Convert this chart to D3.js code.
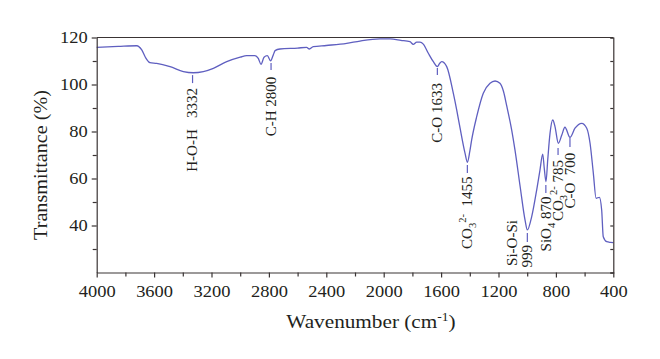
<!DOCTYPE html>
<html>
<head>
<meta charset="utf-8">
<script src="https://cdn.jsdelivr.net/npm/d3@7"></script>
<style>
html,body{margin:0;padding:0;background:#fff;}
svg{display:block;}
text{font-family:"Liberation Serif","DejaVu Serif",serif;fill:#231f20;}
</style>
</head>
<body>
<svg id="chart" width="660" height="359"></svg>
<script>
// Wavenumber (cm-1) and transmittance (%)
const wavenumber = [4000,3850,3721,3686,3660,3629,3582,3489,3396,3327,3257,3187,3094,3000,2955,2897,2874,2855,2834,2811,2788,2770,2757,2723,2600,2537,2518,2491,2400,2258,2165,2026,1956,1880,1817,1794,1770,1747,1724,1689,1654,1626,1610,1596,1561,1515,1491,1468,1433,1417,1400,1387,1352,1306,1259,1224,1190,1165,1143,1108,1085,1049,1015,999,969,934,911,892,881,869,857,841,822,806,783,759,737,702,667,620,585,562,539,520,497,481,470,446,420,400];
const transmittance = [115.8,116.2,116.5,114.7,111.5,109.3,109.0,107.6,105.5,105.0,105.5,106.9,109.7,111.6,112.3,112.3,111.1,108.6,111.6,112.3,110.1,112.5,114.4,115.1,115.5,115.8,115.1,116.1,116.6,117.5,118.5,119.4,119.4,118.8,118.2,117.1,118.0,118.0,117.2,113.3,109.7,107.6,109.0,109.7,107.6,96.3,89.1,81.5,70.7,66.9,71.5,76.4,86.3,96.3,100.5,101.5,100.5,97.0,91.0,80.6,72.1,56.5,42.3,38.1,43.7,55.1,63.6,70.4,64.3,58.6,67.9,79.2,84.9,82.0,75.0,78.5,81.8,77.5,81.4,83.5,81.4,75.0,62.2,51.6,52.0,46.6,35.2,33.1,32.8,32.7];

// Axis ticks
const xTicks = [4000,3600,3200,2800,2400,2000,1600,1200,800,400];
const yTicks = [40,60,80,100,120];

// Peak annotations: position (wavenumber), marker line from/to (transmittance), text top, label parts
const annWn    = [3332, 2785, 1626, 1417, 999, 870, 785, 702];
const annLineA = [104.0, 109.1, 107.0, 65.7, 36.8, 57.2, 73.0, 77.2];
const annLineB = [100.6, 106.2, 104.0, 62.3, 33.0, 53.8, 70.0, 73.4];
const annTop   = [98.5, 103.3, 100.6, 60.8, 31.7, 52.3, 67.9, 71.0];
const annLabel = [
  [["H-O-H\u00a0\u00a0\u00a03332",""]],
  [["C-H 2800",""]],
  [["C-O 1633",""]],
  [["CO",""],["3","sub"],["2-","sup"],["\u00a0\u00a01455",""]],
  [["999",""]],
  [["SiO",""],["4","sub"],[" 870",""]],
  [["CO",""],["3","sub"],["2-","sup"],[" 785",""]],
  [["C-O\u00a0\u00a0700",""]]
];
const extraWn = [1108];
const extraTop = [42.3];
const extraLabel = ["Si-O-Si"];

const svg = d3.select("#chart");
const M = {left:96.7, right:613.3, top:37.5, bottom:272.5};
const x = d3.scaleLinear().domain([4000,400]).range([M.left, M.right]);
const y = d3.scaleLinear().domain([20,120]).range([M.bottom, M.top]);
const axisColor = "#3a3434";
const SX = 1.12;

// Curve
const line = d3.line().x((d,i)=>x(wavenumber[i])).y(d=>y(d)).curve(d3.curveMonotoneX);
svg.append("path").datum(transmittance)
  .attr("d", line).attr("fill","none").attr("stroke","#5f5fc0").attr("stroke-width",1.3);

// Frame: top & right
svg.append("line").attr("x1",M.left).attr("x2",M.right).attr("y1",M.top).attr("y2",M.top)
  .attr("stroke",axisColor).attr("stroke-width",1.2);
const gR = svg.append("g").attr("transform",`translate(${M.right},0)`)
  .call(d3.axisRight(y).tickValues(d3.range(20,121,10)).tickSize(-3).tickFormat(""));
gR.selectAll("path,line").attr("stroke",axisColor).attr("stroke-width",1.2);

// Bottom axis
const gx = svg.append("g").attr("transform",`translate(0,${M.bottom})`);
gx.call(d3.axisBottom(x).tickValues(d3.range(4000,399,-200)).tickSize(4).tickSizeOuter(0)
  .tickFormat(d => xTicks.includes(d) ? d : ""));
gx.selectAll("path,line").attr("stroke",axisColor).attr("stroke-width",1.2);
gx.selectAll("line").filter(d=>xTicks.includes(d)).attr("y2",5);
gx.selectAll("text").attr("font-size",16.5).attr("fill","#231f20").attr("y",8).attr("dy","1.0em")
  .attr("transform",`scale(${SX},1)`)
  .attr("font-family","'Liberation Serif',serif");

// Left axis
const gy = svg.append("g").attr("transform",`translate(${M.left},0)`);
gy.call(d3.axisLeft(y).tickValues(d3.range(30,121,10)).tickSize(4).tickSizeOuter(0)
  .tickFormat(d => yTicks.includes(d) ? d : ""));
gy.selectAll("path,line").attr("stroke",axisColor).attr("stroke-width",1.2);
gy.selectAll("line").filter(d=>yTicks.includes(d)).attr("x2",-5);
gy.selectAll("text").attr("font-size",16.5).attr("fill","#231f20").attr("x",-9/SX)
  .attr("transform",`scale(${SX},1)`)
  .attr("font-family","'Liberation Serif',serif");

// Axis titles
const xt = svg.append("text").attr("transform","translate(371,328) scale(1.18,1)")
  .attr("text-anchor","middle").attr("font-size",18);
xt.append("tspan").text("Wavenumber (cm");
xt.append("tspan").text("-1").attr("font-size",11.5).attr("dy",-7);
xt.append("tspan").text(")").attr("dy",7);
svg.append("text").attr("transform","translate(47,165) rotate(-90) scale(1.12,1)")
  .attr("text-anchor","middle").attr("font-size",18).text("Transmittance (%)");

// Annotations
const annColor = "#5f5fc0";
annWn.forEach((w,i)=>{
  svg.append("line").attr("x1",x(w)).attr("x2",x(w)).attr("y1",y(annLineA[i])).attr("y2",y(annLineB[i]))
    .attr("stroke",annColor).attr("stroke-width",1.2);
  const t = svg.append("text").attr("transform",`translate(${x(w)+4.8},${y(annTop[i])}) rotate(-90)`)
    .attr("text-anchor","end").attr("font-size",15);
  annLabel[i].forEach(([s,kind])=>{
    const sp = t.append("tspan").text(s);
    if(kind==="sub") sp.attr("font-size",10.5).attr("baseline-shift","-4");
    if(kind==="sup") sp.attr("font-size",10.5).attr("baseline-shift","6");
  });
});
extraWn.forEach((w,i)=>{
  svg.append("text").attr("transform",`translate(${x(w)+4.8},${y(extraTop[i])}) rotate(-90)`)
    .attr("text-anchor","end").attr("font-size",15).text(extraLabel[i]);
});
</script>
</body>
</html>
